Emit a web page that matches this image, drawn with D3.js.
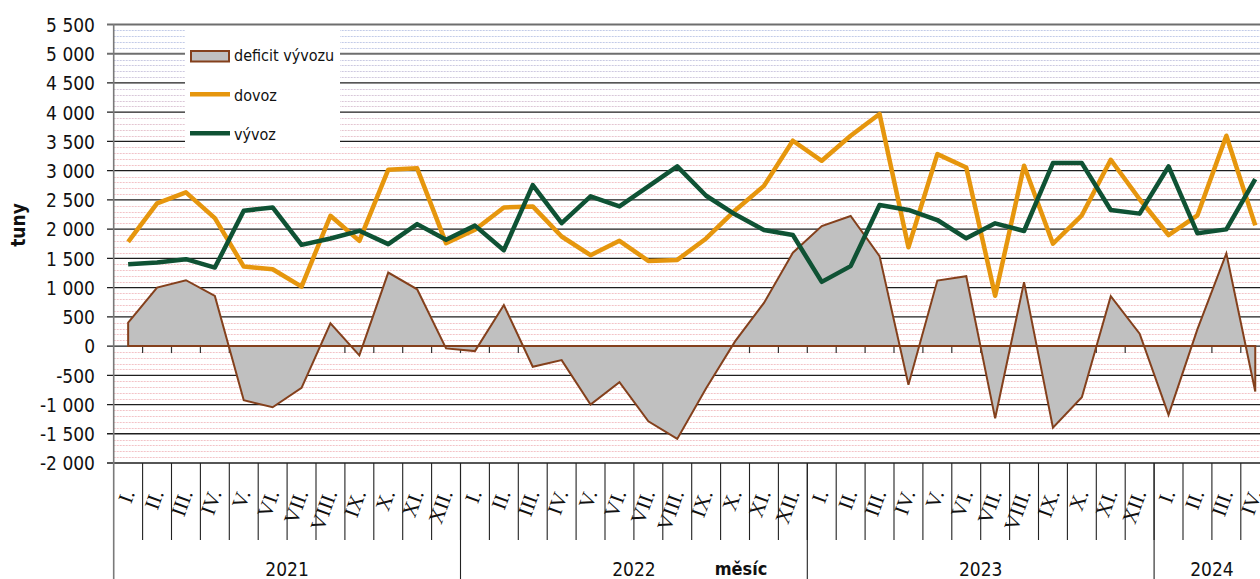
<!DOCTYPE html>
<html>
<head>
<meta charset="utf-8">
<script src="https://cdn.jsdelivr.net/npm/d3@7"></script>
<style>
  html, body { margin: 0; padding: 0; background: #fff; overflow: hidden; }
  svg { display: block; }
  .sans { font-family: "DejaVu Sans Condensed", "Noto Sans", sans-serif; font-stretch: condensed; }
</style>
</head>
<body>
<svg id="chart" width="1260" height="579"></svg>
<script>
// ---- data ----
const months = ["I.","II.","III.","IV.","V.","VI.","VII.","VIII.","IX.","X.","XI.","XII.",
                "I.","II.","III.","IV.","V.","VI.","VII.","VIII.","IX.","X.","XI.","XII.",
                "I.","II.","III.","IV.","V.","VI.","VII.","VIII.","IX.","X.","XI.","XII.",
                "I.","II.","III.","IV."];
const yearLabels = ["2021","2022","2023","2024"];
const yearMonths = [12, 12, 12, 4];

const dovoz = [1783, 2440, 2629, 2189, 1360, 1314, 1017, 2229, 1800, 3017, 3040, 1760,
               1990, 2371, 2389, 1874, 1554, 1800, 1457, 1474, 1840, 2320, 2740, 3512,
               3169, 3598, 3970, 1690, 3283, 3054, 860, 3083, 1750, 2237, 3186, 2511,
               1899, 2237, 3598, 2065];
const vyvoz = [1400, 1429, 1486, 1343, 2314, 2371, 1731, 1840, 1971, 1743, 2086, 1817,
               2060, 1640, 2754, 2103, 2560, 2389, 2731, 3074, 2571, 2254, 1985, 1899,
               1098, 1367, 2414, 2328, 2156, 1842, 2099, 1968, 3129, 3129, 2328, 2265,
               3072, 1928, 1996, 2854];
const deficit = [400, 1000, 1126, 857, -926, -1046, -714, 389, -160, 1257, 971, -40,
                 -86, 703, -354, -240, -1000, -617, -1286, -1589, -720, 80, 738, 1596,
                 2053, 2225, 1539, -663, 1121, 1195, -1236, 1093, -1396, -875, 852, 212,
                 -1178, 290, 1584, -778];
const yTicks = [-2000,-1500,-1000,-500,0,500,1000,1500,2000,2500,3000,3500,4000,4500,5000,5500];
const yTickLabels = ["-2 000","-1 500","-1 000","-500","0","500","1 000","1 500","2 000","2 500","3 000","3 500","4 000","4 500","5 000","5 500"];
const seriesNames = ["deficit vývozu","dovoz","vývoz"];

// ---- layout ----
const svg = d3.select("#chart");
const left = 113.7, catW = 28.9;
const x = d3.scaleBand().domain(d3.range(months.length)).range([left, left + catW * months.length]).padding(0);
const y = d3.scaleLinear().domain([-2000, 5500]).range([463, 24.5]);
const cx = i => x(i) + x.bandwidth() / 2;
const right = 1262;

// minor gridlines
const minor = d3.range(-2000, 5501, 100).filter(v => v % 500 !== 0);
const colMinor = d3.interpolateRgb("#c2cbe8", "#f3c3c7");
svg.append("g").selectAll("line").data(minor).join("line")
  .attr("x1", left).attr("x2", right)
  .attr("y1", d => Math.round(y(d)) + 0.5).attr("y2", d => Math.round(y(d)) + 0.5)
  .attr("stroke", d => colMinor(Math.max(0, Math.min(1, (5200 - d) / 2000))))
  .attr("stroke-width", 1).attr("stroke-dasharray", "2,1");

// major gridlines
svg.append("g").selectAll("line").data(yTicks).join("line")
  .attr("x1", 107).attr("x2", right)
  .attr("y1", d => y(d)).attr("y2", d => y(d))
  .attr("stroke", d => d >= 5000 ? "#6e6e6e" : "#1e1e1e")
  .attr("stroke-width", d => d >= 5000 ? 2 : 1.3);

// y labels
svg.append("g").selectAll("text").data(yTicks).join("text")
  .attr("class", "sans")
  .attr("x", 95).attr("y", d => y(d) + 7.3)
  .attr("text-anchor", "end").attr("font-size", 19).attr("fill", "#111")
  .text((d, i) => yTickLabels[i]);

// left axis
svg.append("line").attr("x1", left).attr("x2", left).attr("y1", 24).attr("y2", 579)
  .attr("stroke", "#7a7a7a").attr("stroke-width", 1.6);

// category ticks at zero line
svg.append("g").selectAll("line").data(d3.range(1, months.length + 1)).join("line")
  .attr("x1", i => left + i * catW).attr("x2", i => left + i * catW)
  .attr("y1", y(0)).attr("y2", y(0) + 7)
  .attr("stroke", "#333").attr("stroke-width", 1.2);

// deficit area
const area = d3.area().x((d, i) => cx(i)).y0(y(0)).y1(d => y(d));
svg.append("path").datum(deficit)
  .attr("d", area)
  .attr("fill", "#c0c0c0").attr("stroke", "#84401c").attr("stroke-width", 2).attr("stroke-linejoin", "miter");

// lines
const line = d3.line().x((d, i) => cx(i)).y(d => y(d));
svg.append("path").datum(dovoz).attr("d", line)
  .attr("fill", "none").attr("stroke", "#e6960d").attr("stroke-width", 4.5).attr("stroke-linejoin", "round");
svg.append("path").datum(vyvoz).attr("d", line)
  .attr("fill", "none").attr("stroke", "#0f5234").attr("stroke-width", 4.5).attr("stroke-linejoin", "round");

// x category area: month separators
svg.append("g").selectAll("line").data(d3.range(1, months.length + 1)).join("line")
  .attr("x1", i => left + i * catW).attr("x2", i => left + i * catW)
  .attr("y1", 463).attr("y2", 540)
  .attr("stroke", "#222").attr("stroke-width", 1.1);

// year separators
const yearStarts = [];
let acc = 0;
yearMonths.forEach(n => { yearStarts.push(acc); acc += n; });
svg.append("g").selectAll("line").data(yearStarts.slice(1)).join("line")
  .attr("x1", s => left + s * catW).attr("x2", s => left + s * catW)
  .attr("y1", 463).attr("y2", 579)
  .attr("stroke", "#222").attr("stroke-width", 1.1);

// month labels
svg.append("g").selectAll("text").data(months).join("text")
  .attr("transform", (d, i) => `translate(${cx(i) + 7},${493}) rotate(-70)`)
  .attr("text-anchor", "end")
  .attr("font-family", "'Liberation Serif', 'DejaVu Serif', serif")
  .attr("font-size", 21).attr("fill", "#111")
  .text(d => d);

// year labels
svg.append("g").selectAll("text").data(yearLabels).join("text")
  .attr("class", "sans")
  .attr("x", (d, i) => left + (yearStarts[i] + yearMonths[i] / 2) * catW)
  .attr("y", 576).attr("text-anchor", "middle").attr("font-size", 19).attr("fill", "#111")
  .text(d => d);

// axis titles
svg.append("text").attr("class", "sans")
  .attr("x", 741).attr("y", 575).attr("text-anchor", "middle")
  .attr("font-size", 18).attr("font-weight", "bold").attr("fill", "#111").text("měsíc");
svg.append("text").attr("class", "sans")
  .attr("transform", "translate(25,225) rotate(-90)").attr("text-anchor", "middle")
  .attr("font-size", 19).attr("font-weight", "bold").attr("fill", "#111").text("tuny");

// legend
const lg = svg.append("g");
lg.append("rect").attr("x", 185).attr("y", 28).attr("width", 155).attr("height", 124).attr("fill", "#fff");
lg.append("rect").attr("x", 191).attr("y", 51).attr("width", 38).attr("height", 10.5)
  .attr("fill", "#c0c0c0").attr("stroke", "#84401c").attr("stroke-width", 2);
lg.append("line").attr("x1", 190).attr("x2", 230).attr("y1", 94.3).attr("y2", 94.3)
  .attr("stroke", "#e6960d").attr("stroke-width", 4.5);
lg.append("line").attr("x1", 190).attr("x2", 230).attr("y1", 133.3).attr("y2", 133.3)
  .attr("stroke", "#0f5234").attr("stroke-width", 4.5);
lg.selectAll("text.lt").data(seriesNames).join("text").attr("class", "sans lt")
  .attr("x", 234).attr("y", (d, i) => [61, 100.5, 139.5][i])
  .attr("font-size", 16).attr("fill", "#111").text(d => d);
</script>
</body>
</html>
